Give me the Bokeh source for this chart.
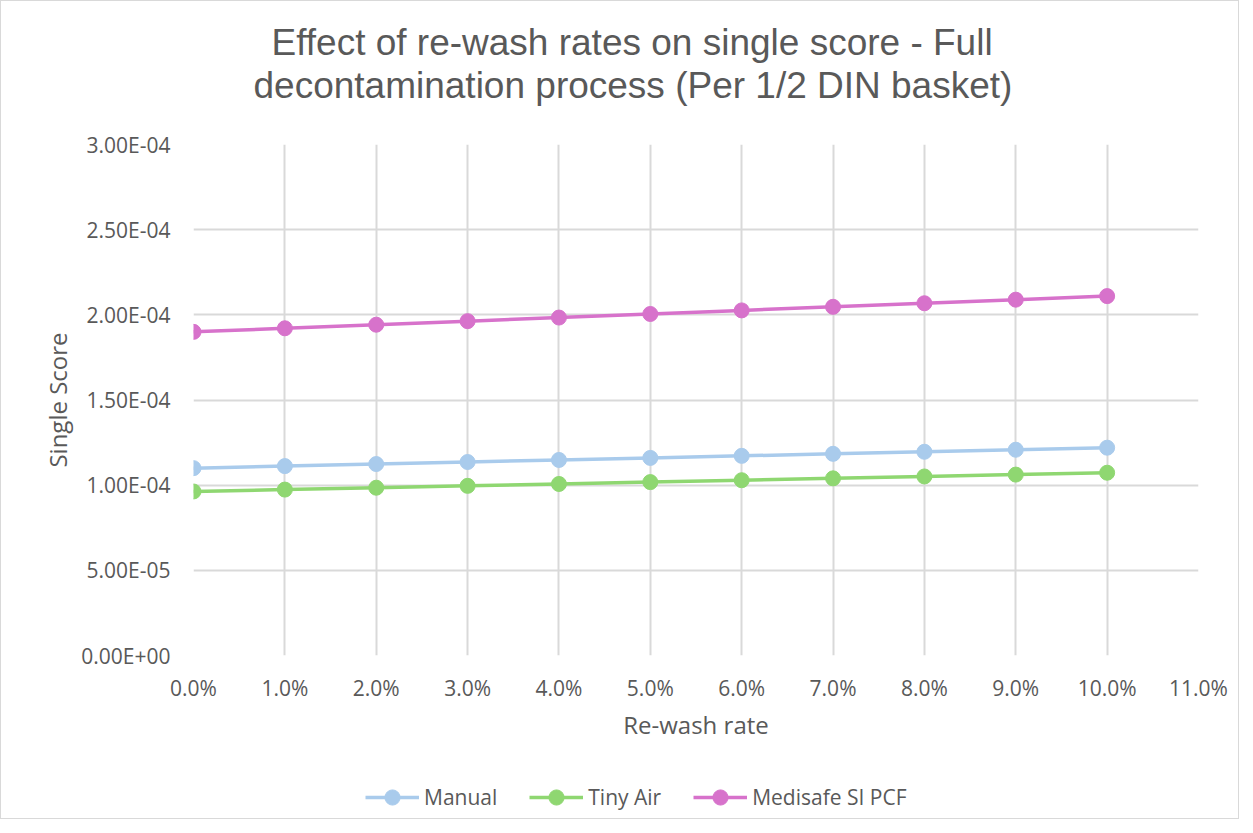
from bokeh.plotting import figure
from bokeh.layouts import column
from bokeh.models import Legend, LegendItem, Title, FixedTicker, NumeralTickFormatter
from bokeh.embed import file_html
from bokeh.resources import INLINE

# ---- data ----
rewash_rate = [0.00, 0.01, 0.02, 0.03, 0.04, 0.05, 0.06, 0.07, 0.08, 0.09, 0.10]
manual = [1.100e-4, 1.112e-4, 1.124e-4, 1.136e-4, 1.148e-4, 1.160e-4,
          1.172e-4, 1.184e-4, 1.196e-4, 1.208e-4, 1.220e-4]
tiny_air = [0.963e-4, 0.974e-4, 0.985e-4, 0.996e-4, 1.007e-4, 1.018e-4,
            1.029e-4, 1.040e-4, 1.051e-4, 1.062e-4, 1.073e-4]
medisafe = [1.900e-4, 1.921e-4, 1.942e-4, 1.963e-4, 1.984e-4, 2.005e-4,
            2.026e-4, 2.047e-4, 2.068e-4, 2.089e-4, 2.110e-4]
series_names = ["Manual", "Tiny Air", "Medisafe SI PCF"]
x_ticks = [0.00, 0.01, 0.02, 0.03, 0.04, 0.05, 0.06, 0.07, 0.08, 0.09, 0.10, 0.11]
y_ticks = [0.0, 5e-5, 1e-4, 1.5e-4, 2e-4, 2.5e-4, 3e-4]
y_tick_labels = ["0.00E+00", "5.00E-05", "1.00E-04", "1.50E-04", "2.00E-04", "2.50E-04", "3.00E-04"]
title_lines = ["Effect of re-wash rates on single score - Full",
               "decontamination process (Per 1/2 DIN basket)"]

colors = ["#a9cbec", "#8fd771", "#d772cb"]
FONT = "Open Sans"
TXT = "#595959"
GRID = "#d9d9d9"

p = figure(frame_width=1005, frame_height=511, output_backend="svg", toolbar_location=None,
           x_range=(0, 0.11), y_range=(0, 3e-4),
           min_border_left=192, min_border_right=38, min_border_top=143, min_border_bottom=112)
p.outline_line_color = None

# spacer, then second line, then first line (outermost)
p.add_layout(Title(text=" ", text_font_size="33px", text_line_height=1.0, standoff=0), "above")
p.add_layout(Title(text=title_lines[1], align="left", offset=60,
                   text_font="Liberation Sans", text_font_size="37px", text_color=TXT,
                   text_font_style="normal", text_line_height=0.85, standoff=0), "above")
p.add_layout(Title(text=title_lines[0], align="left", offset=78,
                   text_font="Liberation Sans", text_font_size="37px", text_color=TXT,
                   text_font_style="normal", text_line_height=0.85, standoff=0), "above")

p.xaxis.ticker = FixedTicker(ticks=x_ticks)
p.xaxis.formatter = NumeralTickFormatter(format="0.0%")
p.yaxis.ticker = FixedTicker(ticks=y_ticks)
p.yaxis.major_label_overrides = {t: l for t, l in zip(y_ticks, y_tick_labels)}

for ax in (p.xaxis[0], p.yaxis[0]):
    ax.axis_line_color = None
    ax.major_tick_line_color = None
    ax.minor_tick_line_color = None
    ax.major_label_text_font = FONT
    ax.major_label_text_font_size = "21px"
    ax.major_label_text_color = TXT
    ax.axis_label_text_font = FONT
    ax.axis_label_text_font_size = "24px"
    ax.axis_label_text_color = TXT
    ax.axis_label_text_font_style = "normal"

p.xaxis.axis_label = "Re-wash rate"
p.yaxis.axis_label = "Single Score"
p.xaxis.major_label_standoff = 12
p.xaxis.axis_label_standoff = 3
p.yaxis.major_label_standoff = 17
p.yaxis.axis_label_standoff = 4

p.xgrid.ticker = FixedTicker(ticks=x_ticks)
p.ygrid.ticker = FixedTicker(ticks=y_ticks)
p.grid.grid_line_color = GRID
p.grid.grid_line_width = 2

for ys, c in zip([manual, tiny_air, medisafe], colors):
    p.line(rewash_rate, ys, line_color=c, line_width=3.5)
    p.scatter(rewash_rate, ys, size=15, fill_color=c, line_color=c)

# legend strip: same series drawn outside its visible y range, only the legend shows
pl = figure(width=1237, height=51, output_backend="svg", toolbar_location=None,
            x_range=(0, 0.11), y_range=(1, 2), min_border=0)
pl.axis.visible = False
pl.grid.visible = False
pl.outline_line_color = None
items = []
for name, ys, c in zip(series_names, [manual, tiny_air, medisafe], colors):
    l = pl.line(rewash_rate, ys, line_color=c, line_width=3.5)
    s = pl.scatter(rewash_rate, ys, size=15, fill_color=c, line_color=c)
    items.append(LegendItem(label=name, renderers=[l, s]))
legend = Legend(items=items, orientation="horizontal", location=(172, 2),
                label_text_font=FONT, label_text_font_size="21px", label_text_color=TXT,
                glyph_width=54, glyph_height=38, spacing=32, label_standoff=5,
                border_line_color=None, background_fill_alpha=0, margin=0, padding=0)
pl.add_layout(legend, "center")

layout = column(p, pl, spacing=0)
layout.styles = {"border": "1px solid #d9d9d9"}

open("out.html", "w").write(file_html(layout, INLINE))
